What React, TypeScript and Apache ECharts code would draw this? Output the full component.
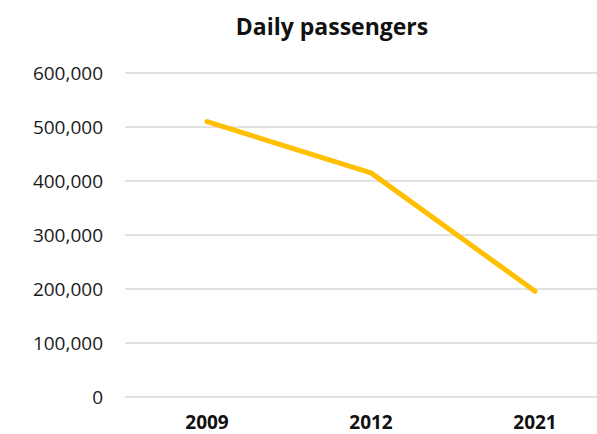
import React, { useEffect, useRef } from "react";
import * as echarts from "echarts";

const categories = ["2009", "2012", "2021"];
const passengers = [510000, 415000, 196000];
const yTicks = [0, 100000, 200000, 300000, 400000, 500000, 600000];

export default function App() {
  const ref = useRef<HTMLDivElement>(null);
  useEffect(() => {
    if (!ref.current) return;
    const chart = echarts.init(ref.current, null, { renderer: "svg" });
    chart.setOption({
      animation: false,
      backgroundColor: "#ffffff",
      title: {
        text: "Daily passengers",
        left: 327,
        top: 9,
        textAlign: "center",
        textStyle: { fontFamily: "Open Sans", fontWeight: "bold", fontSize: 23, color: "#111111" },
      },
      grid: { left: 125, top: 73, width: 492, height: 324, outerBoundsMode: "none", containLabel: false },
      xAxis: {
        type: "category",
        data: categories,
        boundaryGap: true,
        axisLine: { show: false },
        axisTick: { show: false },
        axisLabel: {
          margin: 15,
          fontFamily: "Open Sans",
          fontWeight: "bold",
          fontSize: 19,
          color: "#111111",
        },
      },
      yAxis: {
        type: "value",
        min: yTicks[0],
        max: yTicks[yTicks.length - 1],
        interval: 100000,
        axisLine: { show: false },
        axisTick: { show: false },
        splitLine: { lineStyle: { color: "#d9d9d9", width: 1.5 } },
        axisLabel: {
          margin: 22,
          fontFamily: "Open Sans",
          fontSize: 19,
          color: "#1a1a1a",
          formatter: (v: number) => v.toLocaleString("en-US"),
        },
      },
      series: [
        {
          type: "line",
          data: passengers,
          showSymbol: false,
          symbol: "none",
          lineStyle: { color: "#FFC000", width: 5, cap: "round", join: "round" },
        },
      ],
    });
    return () => chart.dispose();
  }, []);
  return (
    <div
      ref={ref}
      style={{ position: "fixed", left: 0, top: 0, width: 597, height: 434 }}
    />
  );
}
